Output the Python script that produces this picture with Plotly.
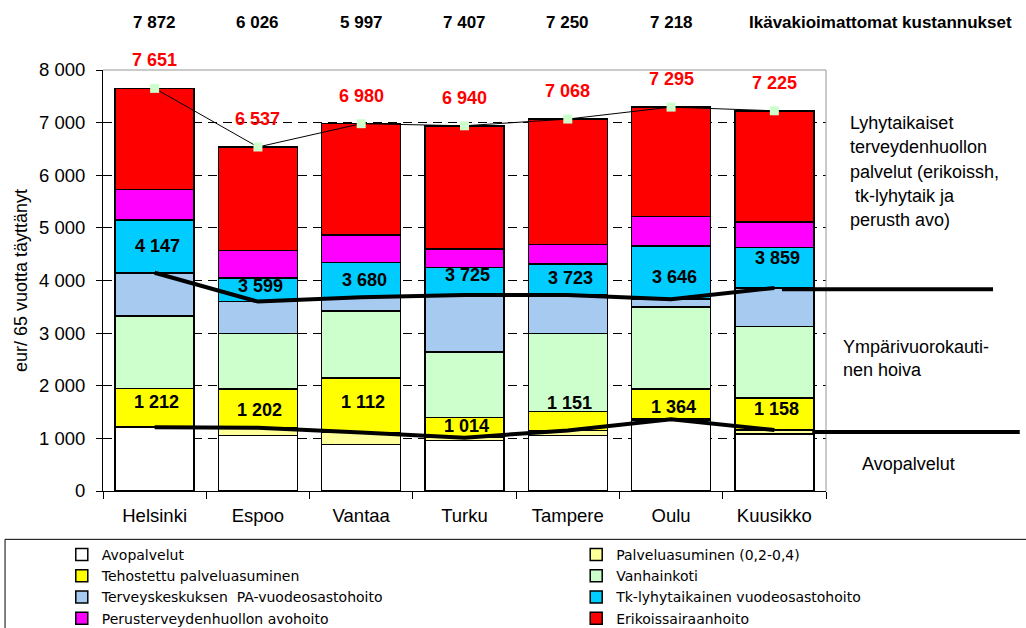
import plotly.graph_objects as go

# ---------------- data ----------------
cities = ["Helsinki", "Espoo", "Vantaa", "Turku", "Tampere", "Oulu", "Kuusikko"]

avopalvelut = [1212, 1050, 880, 960, 1050, 1345, 1081]
palveluasuminen = [0, 152, 232, 54, 101, 19, 77]
tehostettu = [733, 738, 1032, 386, 363, 576, 610]
vanhainkoti = [1382, 1050, 1272, 1240, 1476, 1559, 1362]
pa_vuodeosasto = [820, 609, 264, 1085, 733, 147, 729]
tk_lyhytaik = [1000, 453, 658, 524, 590, 1011, 772]
perus_avo = [579, 515, 528, 350, 375, 559, 484]
erikoissh = [1925, 1970, 2114, 2341, 2380, 2079, 2110]

avo_line = [1212, 1202, 1112, 1014, 1151, 1364, 1158]
ymparivuoro_line = [4147, 3599, 3680, 3725, 3723, 3646, 3859]
totals = [7651, 6537, 6980, 6940, 7068, 7295, 7225]

unadjusted_cities = ["Helsinki", "Espoo", "Vantaa", "Turku", "Tampere", "Oulu"]
unadjusted = [7872, 6026, 5997, 7407, 7250, 7218]

series_names = [
    "Avopalvelut",
    "Palveluasuminen (0,2-0,4)",
    "Tehostettu palveluasuminen",
    "Vanhainkoti",
    "Terveyskeskuksen  PA-vuodeosastohoito",
    "Tk-lyhytaikainen vuodeosastohoito",
    "Perusterveydenhuollon avohoito",
    "Erikoissairaanhoito",
]
series_values = [avopalvelut, palveluasuminen, tehostettu, vanhainkoti,
                 pa_vuodeosasto, tk_lyhytaik, perus_avo, erikoissh]

# ---------------- styles ----------------
series_colors = ["#FFFFFF", "#FFFF99", "#FFFF00", "#CCFFCC",
                 "#A6CAF0", "#00CCFF", "#FF00FF", "#FF0000"]
series_legend = ["legend", "legend2"] * 4
upper_shift = [27, 16, 17, 20, 17, 22, 30]
lower_shift = [25, 18, 30, 12, 27, 12, 21]
FONT = "Liberation Sans, Arial, sans-serif"


def fmt(v):
    return f"{v:,}".replace(",", " ")


fig = go.Figure()

for name, vals, col, lg in zip(series_names, series_values, series_colors, series_legend):
    fig.add_trace(go.Bar(
        x=cities, y=vals, name=name, legend=lg,
        marker=dict(color=col, line=dict(color="black", width=1.5)),
    ))

fig.add_trace(go.Scatter(x=cities, y=avo_line, mode="lines",
                         line=dict(color="black", width=4), showlegend=False))
fig.add_trace(go.Scatter(x=cities, y=ymparivuoro_line, mode="lines",
                         line=dict(color="black", width=4), showlegend=False))
fig.add_trace(go.Scatter(x=cities, y=totals, mode="lines+markers",
                         line=dict(color="black", width=1),
                         marker=dict(symbol="square", size=9, color="#CCFFCC",
                                     line=dict(width=0)),
                         showlegend=False))

annotations = []
for c, v in zip(cities, totals):
    annotations.append(dict(x=c, y=v, text=f"<b>{fmt(v)}</b>", showarrow=False,
                            yshift=28, font=dict(size=18, color="#FF0000")))
for c, v, s in zip(cities, ymparivuoro_line, upper_shift):
    annotations.append(dict(x=c, y=v, text=f"<b>{fmt(v)}</b>", showarrow=False,
                            yshift=s, xshift=3, font=dict(size=18, color="black")))
for c, v, s in zip(cities, avo_line, lower_shift):
    annotations.append(dict(x=c, y=v, text=f"<b>{fmt(v)}</b>", showarrow=False,
                            yshift=s, xshift=2, font=dict(size=18, color="black")))
for c, v in zip(unadjusted_cities, unadjusted):
    annotations.append(dict(x=c, y=1.1124, yref="paper", yanchor="middle",
                            text=f"<b>{fmt(v)}</b>",
                            showarrow=False, font=dict(size=17, color="black")))
annotations.append(dict(x=1.076, y=1.1124, xref="paper", yref="paper",
                        xanchor="center", yanchor="middle",
                        text="<b>Ikävakioimattomat kustannukset</b>", showarrow=False,
                        font=dict(size=17, color="black")))

right_texts = [
    ("Lyhytaikaiset", 1.0304, 0.8747),
    ("terveydenhuollon", 1.0304, 0.8169),
    ("palvelut (erikoissh,", 1.0304, 0.7574),
    ("tk-lyhytaik ja", 1.0373, 0.700),
    ("perusth avo)", 1.0304, 0.643),
    ("Ympärivuorokauti-", 1.0207, 0.3416),
    ("nen hoiva", 1.0207, 0.2869),
    ("Avopalvelut", 1.047, 0.0635),
]
for t, xx, yy in right_texts:
    annotations.append(dict(x=xx, y=yy, xref="paper", yref="paper", text=t,
                            showarrow=False, xanchor="left", yanchor="middle",
                            font=dict(size=18, color="black")))

shapes = [
    # plot frame (top and right, grey)
    dict(type="line", xref="paper", yref="paper", x0=0, x1=1, y0=1, y1=1,
         line=dict(color="#969696", width=1)),
    dict(type="line", xref="paper", yref="paper", x0=1, x1=1, y0=0, y1=1,
         line=dict(color="#969696", width=1)),
    # legend box
    dict(type="rect", xref="paper", yref="paper", x0=-0.1355, x1=1.45,
         y0=-0.1148, y1=-0.6, line=dict(color="black", width=1)),
    # extension lines into the right margin
    dict(type="line", xref="paper", yref="y", x0=0.939, x1=1.231,
         y0=ymparivuoro_line[-1] - 25, y1=ymparivuoro_line[-1] - 25,
         line=dict(color="black", width=4)),
    dict(type="line", xref="paper", yref="y", x0=0.981, x1=1.268,
         y0=avo_line[-1] - 36, y1=avo_line[-1] - 36,
         line=dict(color="black", width=4)),
]

legend_common = dict(orientation="v", traceorder="normal", xanchor="left",
                     yanchor="top", bgcolor="rgba(0,0,0,0)", borderwidth=0,
                     font=dict(size=14, color="black",
                               family="DejaVu Sans, Liberation Sans, sans-serif"),
                     itemwidth=30, itemclick=False)

fig.update_layout(
    width=1026, height=628,
    margin=dict(l=103, r=200, t=70, b=137, autoexpand=False),
    barmode="stack", bargap=0.235,
    plot_bgcolor="white", paper_bgcolor="white",
    font=dict(family=FONT, size=18, color="black"),
    separators=", ",
    showlegend=True,
    legend=dict(x=-0.057, y=-0.114, **legend_common),
    legend2=dict(x=0.6545, y=-0.114, **legend_common),
    annotations=annotations,
    shapes=shapes,
    xaxis=dict(type="category", tickson="boundaries", ticks="outside",
               ticklen=7, tickcolor="black", showline=True, linecolor="black",
               linewidth=1, showgrid=False, tickfont=dict(size=18.5),
               ticklabelstandoff=8),
    yaxis=dict(range=[0, 8000], dtick=1000, tickformat=",d", showline=True,
               linecolor="black", linewidth=1, ticks="outside", ticklen=6,
               tickcolor="black", showgrid=True, gridcolor="black", gridwidth=1,
               griddash="9px,6px", zeroline=False, tickfont=dict(size=18.5),
               ticklabelstandoff=7,
               title=dict(text="eur/ 65 vuotta täyttänyt", font=dict(size=18),
                          standoff=6)),
)

fig.write_html("out.html",
               config={"displayModeBar": False},
               post_script="document.body.style.margin='0';"
                           "document.body.style.padding='0';"
                           "document.body.style.overflow='hidden';")
